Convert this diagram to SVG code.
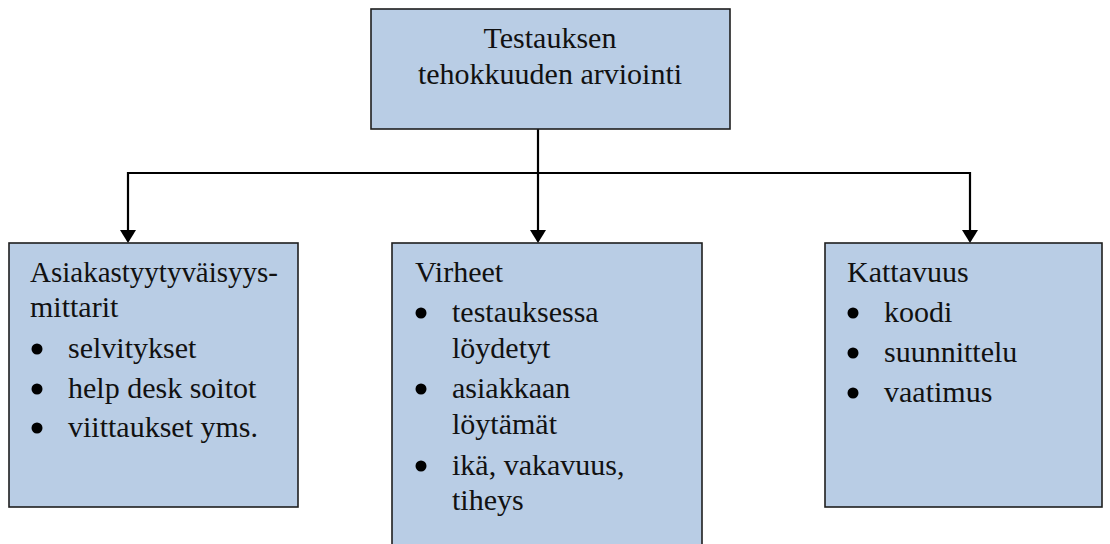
<svg xmlns="http://www.w3.org/2000/svg" width="1110" height="544" viewBox="0 0 1110 544">
<style>
.box{fill:#b9cde5;stroke:#1f1f1f;stroke-width:1.6}
.t{font-family:"Liberation Serif","Times New Roman",serif;font-size:30px;fill:#111}
.c{fill:none;stroke:#000;stroke-width:2.2}
.arr{fill:#000}
circle{fill:#000}
</style>
<rect width="1110" height="544" fill="#fff"/>
<g id="connectors">
<path class="c" d="M538 129 V231"/>
<path class="c" d="M128 231 V173 H970 V231"/>
<polygon class="arr" points="120,230 136,230 128,243"/>
<polygon class="arr" points="530,230 546,230 538,243"/>
<polygon class="arr" points="962,230 978,230 970,243"/>
</g>
<g id="node-top">
<rect class="box" x="371" y="9" width="359" height="120"/>
<text class="t" x="550" y="48" text-anchor="middle">Testauksen</text>
<text class="t" x="550" y="84" text-anchor="middle">tehokkuuden arviointi</text>
</g>
<g id="node-left">
<rect class="box" x="9" y="243" width="289" height="264"/>
<text class="t" x="30" y="282" textLength="248" lengthAdjust="spacingAndGlyphs">Asiakastyytyväisyys-</text>
<text class="t" x="30" y="317">mittarit</text>
<circle cx="37" cy="349" r="5.5"/>
<text class="t" x="68" y="358">selvitykset</text>
<circle cx="37" cy="389" r="5.5"/>
<text class="t" x="68" y="398">help desk soitot</text>
<circle cx="37" cy="428" r="5.5"/>
<text class="t" x="68" y="437">viittaukset yms.</text>
</g>
<g id="node-middle">
<rect class="box" x="392" y="243" width="310" height="310"/>
<text class="t" x="415" y="282">Virheet</text>
<circle cx="421" cy="313" r="5.5"/>
<text class="t" x="452" y="322">testauksessa</text>
<text class="t" x="452" y="358">löydetyt</text>
<circle cx="421" cy="389" r="5.5"/>
<text class="t" x="452" y="398">asiakkaan</text>
<text class="t" x="452" y="434">löytämät</text>
<circle cx="421" cy="466" r="5.5"/>
<text class="t" x="452" y="475">ikä, vakavuus,</text>
<text class="t" x="452" y="510">tiheys</text>
</g>
<g id="node-right">
<rect class="box" x="825" y="243" width="277" height="264"/>
<text class="t" x="847" y="282">Kattavuus</text>
<circle cx="853" cy="313" r="5.5"/>
<text class="t" x="884" y="322">koodi</text>
<circle cx="853" cy="353" r="5.5"/>
<text class="t" x="884" y="362">suunnittelu</text>
<circle cx="853" cy="393" r="5.5"/>
<text class="t" x="884" y="402">vaatimus</text>
</g>
</svg>
